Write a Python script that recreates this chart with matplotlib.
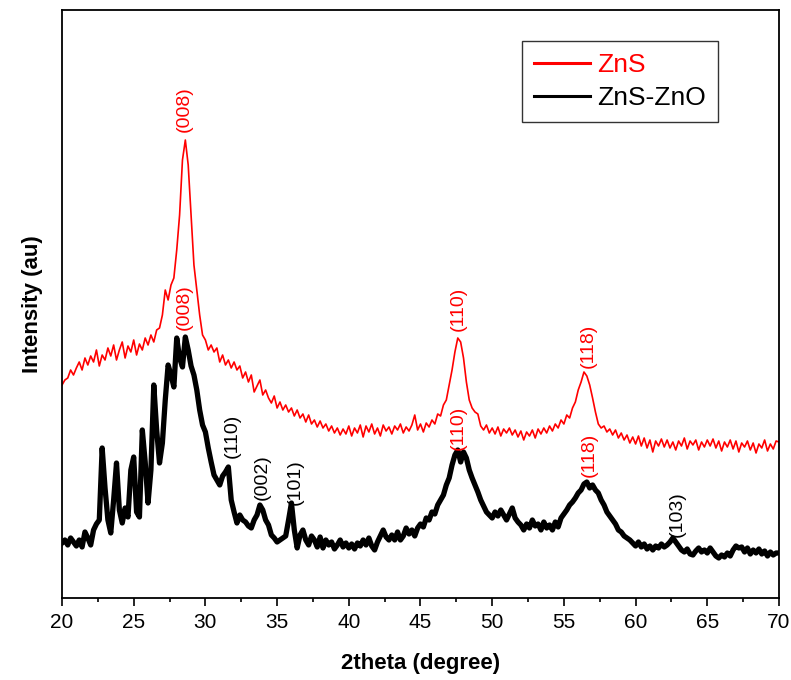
import matplotlib
matplotlib.use('Agg')
import matplotlib.pyplot as plt
from matplotlib.ticker import MultipleLocator
import numpy as np

plt.rcParams['font.family'] = ['Liberation Sans', 'DejaVu Sans']

# ── Data (2theta from 20 to 70 in 0.2 degree steps, intensity in a.u.) ─────
two_theta = np.round(np.arange(20.0, 70.01, 0.2), 1)

zns = [
    215, 220, 222, 230, 225,  232, 238, 230, 242, 235,   # 20-21
    244, 238, 250, 234, 245,  240, 252, 244, 255, 240,   # 22-23
    250, 258, 242, 254, 248,  260, 245, 256, 250, 262,   # 24-25
    255, 265, 258, 270, 272,  285, 310, 300, 315, 322,   # 26-27
    350, 385, 440, 460, 435,  385, 335, 310, 285, 265,   # 28-29
    260, 250, 255, 248, 252,  238, 245, 235, 240, 232,   # 30-31
    238, 230, 234, 222, 228,  218, 225, 208, 214, 220,   # 32-33
    205, 210, 202, 197, 204,  192, 198, 190, 195, 188,   # 34-35
    192, 184, 190, 182, 186,  178, 185, 176, 180, 173,   # 36-37
    179, 172, 176, 169, 174,  167, 172, 165, 171, 166,   # 38-39
    174, 164, 172, 167, 175,  163, 174, 168, 176, 166,   # 40-41
    172, 164, 175, 169, 173,  166, 174, 170, 176, 167,   # 42-43
    173, 169, 175, 185, 170,  176, 168, 177, 173, 180,   # 44-45
    176, 186, 184, 195, 200,  215, 230, 248, 262, 258,   # 46-47
    242, 218, 200, 192, 188,  186, 174, 170, 175, 167,   # 48-49
    172, 166, 173, 164, 171,  167, 172, 165, 170, 163,   # 50-51
    169, 160, 168, 164, 170,  162, 171, 166, 172, 167,   # 52-53
    174, 169, 176, 172, 180,  176, 185, 182, 192, 198,   # 54-55
    210, 218, 228, 224, 215,  202, 188, 176, 172, 174,   # 56-57
    168, 171, 165, 170, 162,  167, 160, 165, 157, 163,   # 58-59
    156, 164, 154, 162, 152,  160, 148, 159, 154, 161,   # 60-61
    153, 160, 152, 158, 150,  159, 154, 162, 151, 159,   # 62-63
    155, 160, 150, 158, 153,  160, 154, 161, 152, 159,   # 64-65
    149, 158, 153, 160, 151,  159, 148, 157, 153, 159,   # 66-67
    150, 157, 147, 156, 152,  160, 149, 156, 151, 159,   # 68-69
    158,                                                 # 70
]

zns_zno = [
    57, 60, 55, 62, 58,  54, 60, 53, 68, 62,        # 20-21
    55, 70, 76, 80, 152,  112, 80, 67, 100, 137,    # 22-23
    90, 77, 92, 83, 130,  143, 88, 83, 170, 138,    # 24-25
    97, 130, 215, 170, 137,  157, 200, 235, 225, 213,  # 26-27
    262, 242, 233, 263, 250,  234, 225, 210, 190, 175,  # 28-29
    168, 152, 138, 125, 120,  115, 124, 128, 133, 100,  # 30-31
    88, 77, 85, 80, 78,  74, 72, 80, 85, 95,        # 32-33
    90, 80, 75, 65, 62,  58, 60, 62, 64, 80,        # 34-35
    97, 70, 52, 65, 70,  60, 55, 64, 60, 53,        # 36-37
    63, 52, 60, 55, 58,  51, 55, 60, 53, 57,        # 38-39
    52, 56, 51, 57, 54,  60, 55, 62, 54, 50,        # 40-41
    58, 64, 70, 63, 60,  65, 60, 68, 60, 64,        # 42-43
    72, 66, 70, 64, 72,  76, 73, 82, 80, 88,        # 44-45
    86, 95, 100, 105, 115,  122, 135, 145, 150, 138,  # 46-47
    148, 142, 130, 122, 115,  108, 100, 94, 88, 85,   # 48-49
    82, 88, 84, 90, 85,  80, 86, 92, 82, 78,        # 50-51
    75, 70, 76, 72, 80,  74, 76, 70, 78, 72,        # 52-53
    75, 70, 78, 73, 82,  86, 90, 95, 98, 102,       # 54-55
    107, 110, 116, 118, 112,  115, 110, 107, 100, 95,  # 56-57
    88, 84, 80, 76, 70,  68, 64, 62, 60, 57,        # 58-59
    54, 58, 53, 56, 51,  54, 50, 54, 52, 56,        # 60-61
    53, 55, 58, 62, 58,  54, 50, 48, 51, 46,        # 62-63
    45, 49, 52, 48, 50,  47, 52, 48, 44, 42,        # 64-65
    45, 43, 47, 44, 50,  54, 52, 53, 48, 52,        # 66-67
    46, 50, 47, 51, 46,  49, 44, 48, 45, 47,        # 68-69
    47,                                             # 70
]

# peak labels: text, 2theta, intensity at label base, colour
peak_labels = ['(008)', '(110)', '(118)',
               '(008)', '(110)', '(002)', '(101)', '(110)', '(118)', '(103)']
peak_x = [28.5, 47.65, 56.7, 28.5, 31.9, 33.95, 36.25, 47.6, 56.8, 62.9]
peak_y = [468, 269, 232, 270, 142, 100, 95, 150, 123, 63]
peak_colors = ['red', 'red', 'red', 'red', 'black', 'black', 'black',
               'red', 'red', 'black']


def main() -> None:
    fig = plt.figure(figsize=(7.91, 6.80), dpi=100)
    ax = fig.add_axes([0.0784, 0.1206, 0.9064, 0.8647])

    ax.plot(two_theta, zns, color='red', linewidth=1.2, label='ZnS')
    ax.plot(two_theta, zns_zno, color='black', linewidth=3.8, label='ZnS-ZnO')

    for txt, x, y, c in zip(peak_labels, peak_x, peak_y, peak_colors):
        ax.text(x, y, txt, rotation=90, ha='center', va='bottom',
                color=c, fontsize=14)

    ax.set_xlim(20, 70)
    ax.set_ylim(2, 590)
    ax.xaxis.set_major_locator(MultipleLocator(5))
    ax.xaxis.set_minor_locator(MultipleLocator(2.5))
    ax.tick_params(axis='x', which='major', direction='out', length=6,
                   width=1.2, labelsize=15, pad=5)
    ax.tick_params(axis='x', which='minor', direction='out', length=3, width=1.2)
    ax.set_yticks([])
    for sp in ax.spines.values():
        sp.set_linewidth(1.3)

    ax.set_xlabel('2theta (degree)', fontsize=16, fontweight='bold', labelpad=15)
    ax.set_ylabel('Intensity (au)', fontsize=16, fontweight='bold', labelpad=14)

    leg = ax.legend(loc='upper left', bbox_to_anchor=(0.642, 0.947),
                    fontsize=19, frameon=True, fancybox=False,
                    edgecolor='black', handlelength=2.1, handletextpad=0.3,
                    borderpad=0.45, labelspacing=0.35, borderaxespad=0)
    leg.get_frame().set_linewidth(1.0)
    for text, line in zip(leg.get_texts(), leg.get_lines()):
        text.set_color(line.get_color())
        line.set_linewidth(2.2)

    fig.savefig('out.png', dpi=100)
    plt.close(fig)


if __name__ == '__main__':
    main()
